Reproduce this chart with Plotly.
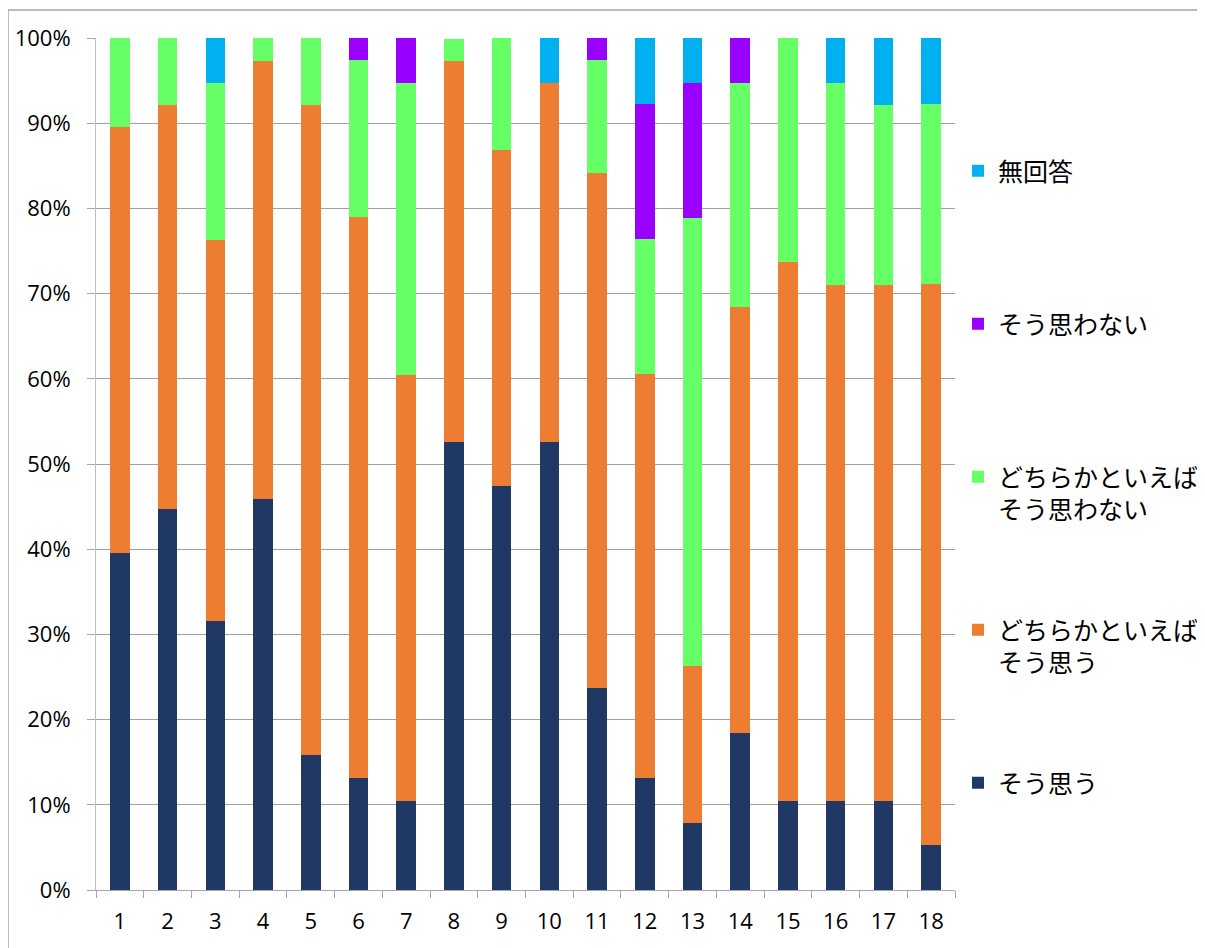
import plotly.graph_objects as go

categories = [str(i) for i in range(1, 19)]

sou_omou = [0.395, 0.447, 0.316, 0.459, 0.158, 0.132, 0.105, 0.526, 0.474, 0.526,
            0.237, 0.132, 0.079, 0.184, 0.105, 0.105, 0.105, 0.053]
dochira_omou = [0.500, 0.474, 0.447, 0.514, 0.763, 0.658, 0.500, 0.447, 0.395, 0.421,
                0.605, 0.474, 0.184, 0.500, 0.632, 0.605, 0.605, 0.658]
dochira_omowanai = [0.105, 0.079, 0.184, 0.027, 0.079, 0.184, 0.342, 0.026, 0.132, 0.000,
                    0.132, 0.158, 0.526, 0.263, 0.263, 0.237, 0.211, 0.211]
omowanai = [0.000, 0.000, 0.000, 0.000, 0.000, 0.026, 0.053, 0.000, 0.000, 0.000,
            0.026, 0.158, 0.158, 0.053, 0.000, 0.000, 0.000, 0.000]
mukaitou = [0.000, 0.000, 0.053, 0.000, 0.000, 0.000, 0.000, 0.000, 0.000, 0.053,
            0.000, 0.079, 0.053, 0.000, 0.000, 0.053, 0.079, 0.079]

series = [
    ("そう思う<br>&nbsp;", sou_omou, "#1F3864"),
    ("どちらかといえば<br>そう思う", dochira_omou, "#ED7D31"),
    ("どちらかといえば<br>そう思わない", dochira_omowanai, "#66FF66"),
    ("そう思わない<br>&nbsp;", omowanai, "#9900FF"),
    ("無回答<br>&nbsp;", mukaitou, "#00B0F0"),
]

fig = go.Figure()
for i, (name, vals, color) in enumerate(series):
    fig.add_trace(go.Bar(
        x=categories, y=vals, name=name, legendgroup=f"g{i}",
        legendrank=10 * (5 - i),
        marker=dict(color=color, line=dict(width=0)),
    ))

# page body has an 8px offset; coordinates below are relative to the figure origin
OFF = 8
W, H = 1205, 948
L = 96 - OFF
T = 38 - OFF
R = W - (955 - OFF)
B = H - (890 - OFF)
pw, ph = W - L - R, H - T - B

fig.update_layout(
    width=W, height=H,
    barmode="stack", bargap=0.59,
    margin=dict(l=L, r=R, t=T, b=B, autoexpand=False),
    plot_bgcolor="white", paper_bgcolor="white",
    font=dict(family="Noto Sans CJK JP", color="#000000"),
    legend=dict(
        traceorder="grouped",
        x=(958 - OFF - L) / pw, xanchor="left",
        y=1 - (148 - OFF - T) / ph, yanchor="top",
        font=dict(family="Noto Sans CJK JP", size=25, color="#000000"),
        tracegroupgap=85, valign="top",
        bgcolor="rgba(0,0,0,0)",
    ),
    shapes=[dict(
        type="rect", xref="paper", yref="paper",
        x0=(8 - OFF - L) / pw, x1=(1220 - OFF - L) / pw,
        y0=1 - (970 - OFF - T) / ph, y1=1 + (T - (10 - OFF)) / ph,
        line=dict(color="#A6A6A6", width=1.5), fillcolor="rgba(0,0,0,0)", layer="below",
    )],
)

fig.update_xaxes(
    type="category", tickson="boundaries", ticks="outside", ticklen=7,
    tickcolor="#A6A6A6", showline=True, linecolor="#A6A6A6", linewidth=1,
    showgrid=False, ticklabelstandoff=12, automargin=False,
    tickfont=dict(family="Open Sans", size=22, color="#000000"),
)
fig.update_yaxes(
    range=[0, 1], dtick=0.1, tickformat=".0%",
    ticks="outside", ticklen=8, tickcolor="#A6A6A6",
    showline=True, linecolor="#BFBFBF", linewidth=1,
    showgrid=True, gridcolor="#A0A0A0", gridwidth=1,
    zeroline=False, ticklabelstandoff=12, automargin=False,
    tickfont=dict(family="Open Sans", size=22, color="#000000"),
)

fig.write_html("out.html")
